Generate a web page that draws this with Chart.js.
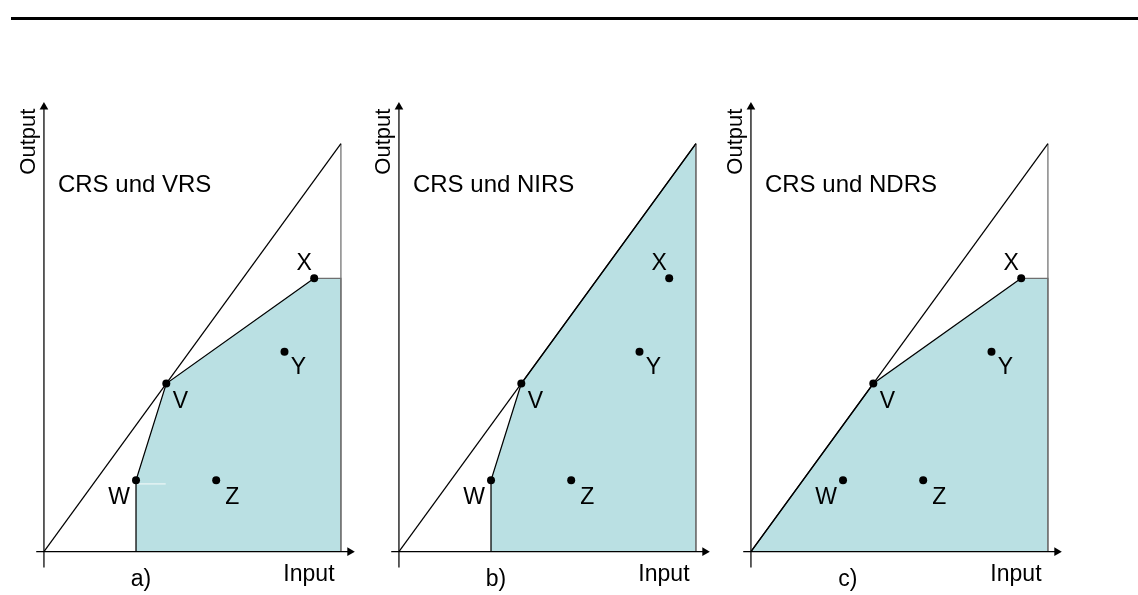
<!DOCTYPE html>
<html><head><meta charset="utf-8">
<script src="https://cdn.jsdelivr.net/npm/chart.js@4"></script>
<style>
html,body{margin:0;padding:0;background:#fff;}
body{width:1138px;height:595px;position:relative;overflow:hidden;}
canvas{position:absolute;top:0;}
#rule{position:absolute;left:11px;top:17px;width:1127px;height:3px;background:#000;}
</style></head><body>
<div id="rule"></div>
<canvas id="pa" width="380" height="595" style="left:0px"></canvas>
<canvas id="pb" width="380" height="595" style="left:355px"></canvas>
<canvas id="pc" width="380" height="595" style="left:707px"></canvas>
<script>
// ---- data (input / output units) ----
const pointNames  = ['W', 'V', 'X', 'Y', 'Z'];
const pointInput  = [3.1, 4.12, 9.1, 8.1, 5.8];
const pointOutput = [1.75, 4.12, 6.7, 4.9, 1.75];
const crsInput  = [0, 10];
const crsOutput = [0, 10];
const maxInput  = 10;
const vrsInput   = [3.1, 3.1, 4.12, 9.1, 10, 10];
const vrsOutput  = [0, 1.75, 4.12, 6.7, 6.7, 0];
const nirsInput  = [3.1, 3.1, 4.12, 10, 10];
const nirsOutput = [0, 1.75, 4.12, 10, 0];
const ndrsInput  = [0, 4.12, 9.1, 10, 10];
const ndrsOutput = [0, 4.12, 6.7, 6.7, 0];
const panelTitles  = ['CRS und VRS', 'CRS und NIRS', 'CRS und NDRS'];
const panelLetters = ['a)', 'b)', 'c)'];
const axisTitleX = 'Input';
const axisTitleY = 'Output';
const xAxisRange = [-0.26, 10.3];
const yAxisRange = [-0.39, 10.9];

// ---- layout ----
const CW = 380, CH = 595, OX = 40, OY = 556, UX = 30.5, UY = 41.5;
const FONT = 'Arial, "Liberation Sans", sans-serif';
const labelOffsets = {W: [-17, 17], V: [14, 18], X: [-10, -15], Y: [14, 16], Z: [16, 17]};
const SHADE = '#BAE0E3';
const EDGE = '#6f6f6f';
const LW = 1.25;

function pts(xs, ys) { return xs.map((x, i) => ({x: x, y: ys[i]})); }

const textPlugin = {
  id: 'panelText',
  afterDraw(chart, args, opts) {
    const ctx = chart.ctx, xs = chart.scales.x, ys = chart.scales.y;
    const ox = xs.getPixelForValue(0), oy = ys.getPixelForValue(0);
    ctx.save();
    ctx.fillStyle = '#000';
    ctx.textBaseline = 'alphabetic';
    ctx.textAlign = 'left';
    ctx.font = '24px ' + FONT;
    ctx.fillText(opts.title, ox + 14, oy - 360);
    ctx.textAlign = 'center';
    ctx.font = '23px ' + FONT;
    ctx.fillText(axisTitleX, ox + 265, oy + 29);
    ctx.fillText(opts.letter, ox + 97, oy + 34);
    ctx.textBaseline = 'middle';
    pointNames.forEach((n, i) => {
      const px = xs.getPixelForValue(pointInput[i]) + labelOffsets[n][0];
      const py = ys.getPixelForValue(pointOutput[i]) + labelOffsets[n][1];
      ctx.fillText(n, px, py);
    });
    ctx.textBaseline = 'alphabetic';
    ctx.font = '22px ' + FONT;
    ctx.translate(ox - 9, oy - 410);
    ctx.rotate(-Math.PI / 2);
    ctx.fillText(axisTitleY, 0, 0);
    ctx.restore();
  }
};

function makePanel(id, idx, fIn, fOut, glitch) {
  const frontier = pts(fIn, fOut);
  const datasets = [
    {data: pts(pointInput, pointOutput), pointRadius: 4, pointBackgroundColor: '#000', pointBorderWidth: 0, showLine: false, order: 0},
    {data: [{x: xAxisRange[0], y: 0}, {x: xAxisRange[1], y: 0}], showLine: true, borderColor: '#000', borderWidth: LW, pointRadius: 0, order: 1},
    {data: [{x: xAxisRange[1], y: 0}], pointStyle: 'triangle', rotation: 90, pointRadius: 5, pointBackgroundColor: '#000', pointBorderWidth: 0, showLine: false, order: 1},
    {data: [{x: 0, y: yAxisRange[0]}, {x: 0, y: yAxisRange[1]}], showLine: true, borderColor: '#000', borderWidth: LW, pointRadius: 0, order: 1},
    {data: [{x: 0, y: yAxisRange[1]}], pointStyle: 'triangle', rotation: 0, pointRadius: 5, pointBackgroundColor: '#000', pointBorderWidth: 0, showLine: false, order: 1},
    {data: pts(crsInput, crsOutput), showLine: true, borderColor: '#000', borderWidth: LW, pointRadius: 0, order: 2},
    {data: [{x: maxInput, y: 0}, {x: maxInput, y: crsOutput[1]}], showLine: true, borderColor: EDGE, borderWidth: LW, pointRadius: 0, order: 3},
    // frontier outline
    {data: frontier, showLine: true, fill: false, borderWidth: LW, pointRadius: 0, order: 3,
     borderColor: '#000',
     segment: {borderColor: c => (c.p1.parsed.x >= maxInput && c.p1.parsed.y < crsOutput[1]) ? EDGE : '#000'}},
    // shaded production possibility set
    {data: frontier, showLine: true, fill: 'origin', backgroundColor: SHADE, borderWidth: 0, borderColor: 'rgba(0,0,0,0)', pointRadius: 0, order: 6}
  ];
  if (glitch) {
    datasets.push({data: [{x: 3.12, y: 1.66}, {x: 4.1, y: 1.66}], showLine: true, borderColor: 'rgba(255,255,255,0.9)', borderWidth: 1, pointRadius: 0, order: 4});
  }
  datasets.forEach(d => { d.clip = false; });
  new Chart(document.getElementById(id), {
    type: 'scatter',
    data: {datasets: datasets},
    options: {
      responsive: false, animation: false, events: [],
      layout: {padding: 0},
      plugins: {legend: {display: false}, tooltip: {enabled: false},
                panelText: {title: panelTitles[idx], letter: panelLetters[idx]}},
      scales: {
        x: {type: 'linear', display: false, min: -OX / UX, max: (CW - OX) / UX},
        y: {type: 'linear', display: false, min: -(CH - OY) / UY, max: OY / UY}
      }
    },
    plugins: [textPlugin]
  });
}

makePanel('pa', 0, vrsInput, vrsOutput, true);
makePanel('pb', 1, nirsInput, nirsOutput, false);
makePanel('pc', 2, ndrsInput, ndrsOutput, false);
</script>
</body></html>
